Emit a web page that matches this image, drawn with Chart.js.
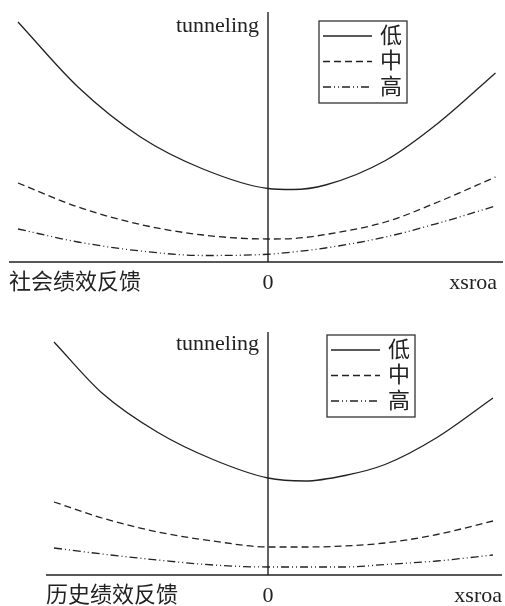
<!DOCTYPE html>
<html>
<head>
<meta charset="utf-8">
<script src="https://cdn.jsdelivr.net/npm/chart.js@4/dist/chart.umd.min.js"></script>
<style>
	body { margin: 0; background: #fff; }
	canvas { display: block; }
</style>
</head>
<body>
<canvas id="social" width="505" height="300"></canvas>
<canvas id="history" width="505" height="306"></canvas>
<script>
// 调节效应图：社会绩效反馈 / 历史绩效反馈
const levels = ['低', '中', '高'];
const yLabel = 'tunneling';
const xLabel = 'xsroa';
const zeroLabel = '0';

const socialTitle = '社会绩效反馈';
const socialX = [-10, -7.6, -5.1, -2.6, 0, 1, 2.3, 4.7, 6.8, 9.1];
const socialLow = [9.6, 7.0, 5.0, 3.72, 2.94, 2.9, 3.08, 4.06, 5.55, 7.56];
const socialMid = [3.16, 2.2, 1.5, 1.08, 0.92, 0.94, 1.1, 1.6, 2.4, 3.4];
const socialHigh = [1.32, 0.8, 0.44, 0.26, 0.31, 0.4, 0.56, 1.0, 1.55, 2.24];

const historyTitle = '历史绩效反馈';
const historyX = [-8.56, -6.64, -4.4, -2.2, 0, 1.48, 3.08, 4.68, 6.76, 9.0];
const historyLow = [9.32, 7.28, 5.7, 4.62, 3.88, 3.76, 3.98, 4.42, 5.5, 7.08];
const historyMid = [2.92, 2.28, 1.72, 1.36, 1.12, 1.12, 1.16, 1.28, 1.62, 2.16];
const historyHigh = [1.08, 0.84, 0.6, 0.4, 0.32, 0.32, 0.32, 0.42, 0.56, 0.8];

const ink = '#222';
const font = '22px "Liberation Serif", "Noto Sans CJK SC", serif';
const dashes = [[], [7, 4], [8, 3, 1, 3, 1, 3]];

// axes through the origin, axis labels and a boxed legend
const crossAxes = {
	id: 'crossAxes',
	beforeDatasetsDraw(chart, args, opts) {
		const { ctx, chartArea, scales } = chart;
		const x0 = scales.x.getPixelForValue(0);
		const y0 = scales.y.getPixelForValue(0);
		ctx.save();
		ctx.strokeStyle = ink;
		ctx.lineWidth = 1.4;
		ctx.beginPath();
		ctx.moveTo(chartArea.left, y0);
		ctx.lineTo(chartArea.right, y0);
		ctx.moveTo(x0, chartArea.top);
		ctx.lineTo(x0, y0);
		ctx.stroke();
		ctx.restore();
	},
	afterDatasetsDraw(chart, args, opts) {
		const { ctx, chartArea, scales } = chart;
		const x0 = scales.x.getPixelForValue(0);
		const y0 = scales.y.getPixelForValue(0);
		ctx.save();
		ctx.fillStyle = ink;
		ctx.font = font;
		ctx.textBaseline = 'alphabetic';

		ctx.textAlign = 'right';
		ctx.fillText(yLabel, x0 - 9, chartArea.top + opts.yLabelDrop);
		ctx.fillText(xLabel, chartArea.right - opts.xLabelInset, y0 + 27);
		ctx.textAlign = 'left';
		ctx.fillText(opts.title, chartArea.left, y0 + 27);
		ctx.textAlign = 'center';
		ctx.fillText(zeroLabel, x0, y0 + 27);

		// legend
		const bx = x0 + opts.legendX;
		const by = chartArea.top + opts.legendY;
		ctx.lineWidth = 1.3;
		ctx.strokeStyle = '#333';
		ctx.strokeRect(bx, by, 88, 82);
		ctx.textAlign = 'left';
		ctx.textBaseline = 'middle';
		chart.data.datasets.forEach((ds, i) => {
			const ry = by + 15 + i * 25.5;
			ctx.setLineDash(ds.borderDash);
			ctx.lineWidth = 1.4;
			ctx.strokeStyle = ink;
			ctx.beginPath();
			ctx.moveTo(bx + 4, ry);
			ctx.lineTo(bx + 53, ry);
			ctx.stroke();
			ctx.setLineDash([]);
			ctx.fillText(ds.label, bx + 61, ry + 1);
		});
		ctx.restore();
	},
};

function makeChart(id, xs, series, opts) {
	const ctx = document.getElementById(id).getContext('2d');
	return new Chart(ctx, {
		type: 'line',
		data: {
			datasets: series.map((ys, i) => ({
				label: levels[i],
				data: xs.map((x, j) => ({ x: x, y: ys[j] })),
				borderColor: ink,
				borderWidth: 1.3,
				borderDash: dashes[i],
				pointRadius: 0,
				cubicInterpolationMode: 'monotone',
				fill: false,
			})),
		},
		options: {
			responsive: false,
			animation: false,
			events: [],
			layout: { padding: opts.padding },
			scales: {
				x: { type: 'linear', display: false, min: opts.xMin, max: opts.xMax },
				y: { type: 'linear', display: false, min: 0, max: opts.yMax },
			},
			plugins: {
				legend: { display: false },
				tooltip: { enabled: false },
				crossAxes: opts,
			},
		},
		plugins: [crossAxes],
	});
}

makeChart('social', socialX, [socialLow, socialMid, socialHigh], {
	title: socialTitle,
	padding: { left: 9, right: 2, top: 12, bottom: 38 },
	xMin: -10.36,
	xMax: 9.4,
	yMax: 10,
	legendX: 51,
	legendY: 9,
	yLabelDrop: 20,
	xLabelInset: 6,
});

makeChart('history', historyX, [historyLow, historyMid, historyHigh], {
	title: historyTitle,
	padding: { left: 46, right: 3, top: 32, bottom: 31 },
	xMin: -8.88,
	xMax: 9.36,
	yMax: 9.72,
	legendX: 59,
	legendY: 3,
	yLabelDrop: 18,
	xLabelInset: 0,
});
</script>
</body>
</html>
